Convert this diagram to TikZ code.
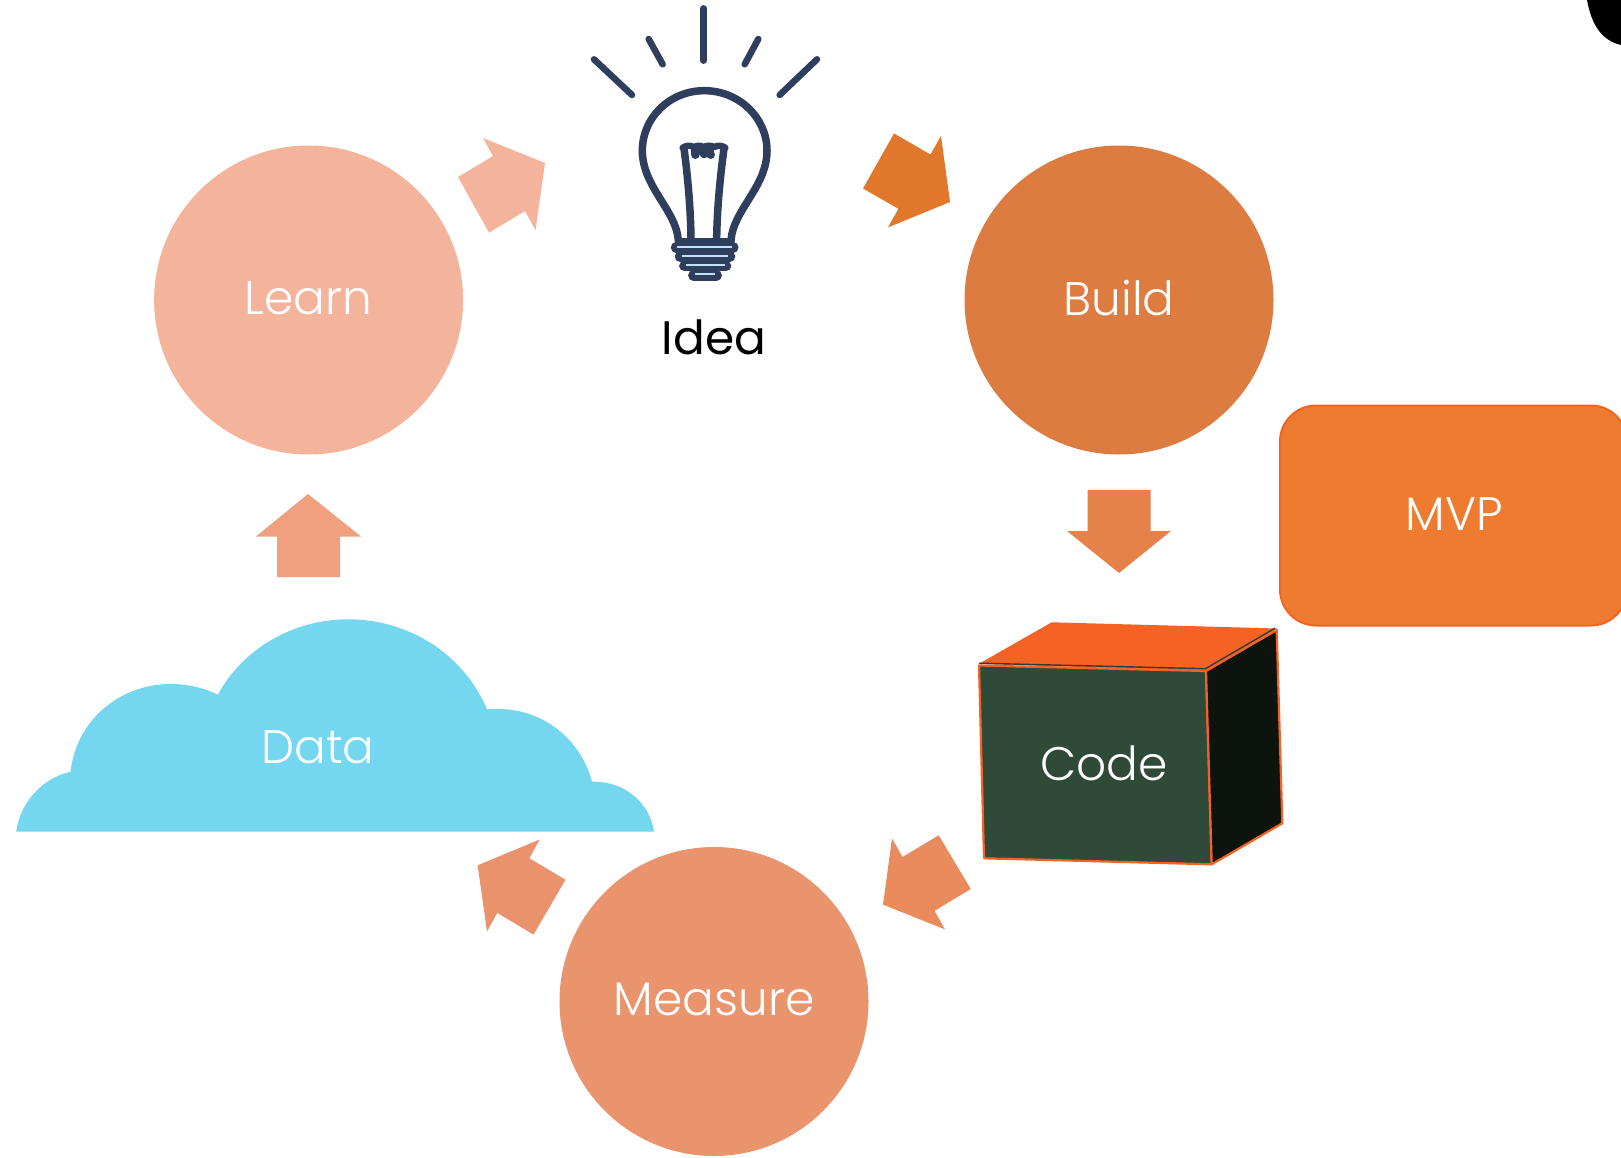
\documentclass[tikz,border=0pt]{standalone}
\usepackage{fontspec}
\setmainfont{Poppins Light}
\newfontfamily\regfont{Poppins}
\begin{document}
\begin{tikzpicture}[x=1pt,y=-1pt,
  stepcircle/.style={circle,minimum size=309pt,inner sep=0pt,text=white},
  label/.style={font=\fontsize{47}{47}\selectfont,text=white,inner sep=0pt},
  blockarrow/.style={draw=none},
  bulbline/.style={draw=bulbblue,line width=7.5pt,line cap=round,line join=round},
  bulbthread/.style={draw=threadblue,line width=1.7pt},
  cubeedge/.style={draw=cubeorange,line width=2.2pt,line join=round}]
\definecolor{bulbblue}{HTML}{2F3E5C}
\definecolor{threadblue}{HTML}{BFE0F5}
\definecolor{cubeorange}{HTML}{F46324}
\useasboundingbox (0,0) rectangle (1621,1158);
\clip (0,0) rectangle (1621,1158);
\fill[white] (0,0) rectangle (1621,1158);
% circles
\node[stepcircle,fill={rgb,255:red,244;green,179;blue,155}] (learn) at (308.6,300) {};
\node[stepcircle,fill={rgb,255:red,221;green,124;blue,65}] (build) at (1119,300) {};
\node[stepcircle,fill={rgb,255:red,233;green,148;blue,109}] (measure) at (714,1001.5) {};
\node[label] (learnt) at (308.6,298) {Learn};
\node[label] (buildt) at (1119,298) {Build};
\node[label] (measuret) at (714,999) {Measure};
% block arrows
\fill[blockarrow,fill={rgb,255:red,244;green,179;blue,155}] (458,177)--(493,156)--(483,138)--(545,163)--(535.5,230)--(525,211)--(489,232.6)--cycle;
\fill[blockarrow,fill={rgb,255:red,225;green,119;blue,43}] (863,188.5)--(894,133.5)--(930.5,154.5)--(941,136)--(950,202)--(888,227.4)--(898.4,208.8)--cycle;
\fill[blockarrow,fill={rgb,255:red,229;green,130;blue,74}] (1087.6,490)--(1150.6,490)--(1150.6,531)--(1171,531)--(1119,573)--(1067,531)--(1087.6,531)--cycle;
\fill[blockarrow,fill={rgb,255:red,233;green,139;blue,92}] (938.7,835.3)--(970.8,889)--(934.6,910.8)--(945,929.4)--(883,904.6)--(892,838.4)--(902.5,857)--cycle;
\fill[blockarrow,fill={rgb,255:red,233;green,146;blue,108}] (565.5,879.8)--(533.5,934.6)--(497.3,912.9)--(487,931.5)--(477.6,865.3)--(539.7,839.5)--(529.3,858.2)--cycle;
\fill[blockarrow,fill={rgb,255:red,240;green,160;blue,126}] (308,494)--(361,536.5)--(340,536.5)--(340,577)--(277,577)--(277,536.5)--(256,536.5)--cycle;
% cloud
\fill[fill={rgb,255:red,116;green,214;blue,239}] (16.2,831.7) .. controls (20,803) and (42,778) .. (70.5,771.7)
 .. controls (76,722) and (118,684) .. (171,684) .. controls (188,684) and (204,688) .. (218,694.7)
 .. controls (241,651) and (291,619.3) .. (348,619.3) .. controls (410,619.3) and (464,655) .. (487,709.3)
 .. controls (491,709) and (494,709) .. (498,709) .. controls (544,709) and (581,740) .. (592,781.7)
 -- (594,781.7) .. controls (625,781.7) and (650,803) .. (654,831.7) -- cycle;
\node[label] (data) at (318,747) {Data};
% cube
\fill[cubeorange] (978.5,664)--(1051.7,622.3)--(1277,628.5)--(1206,670.7)--cycle;
\filldraw[fill={rgb,255:red,48;green,74;blue,58},cubeedge] (979,665.5)--(1206,671)--(1211.7,864.3)--(984,858.3)--cycle;
\filldraw[fill={rgb,255:red,13;green,20;blue,14},cubeedge] (1206,671)--(1276.7,630)--(1282.3,823.3)--(1211.7,864.3)--cycle;
\draw[draw={rgb,255:red,50;green,60;blue,55},line width=1.4pt] (979,663.2)--(1205.5,668.7)--(1275,628.2);
\node[label] (code) at (1104,763) {Code};
% MVP
\node[draw=cubeorange,line width=2pt,fill={rgb,255:red,238;green,123;blue,48},rounded corners=36pt,minimum width=347pt,minimum height=220pt,inner sep=0pt,anchor=north west] (mvp) at (1279,404.5) {};
\node[label] (mvpt) at (1454,514) {MVP};
% blob
\fill[black] (1587,0) .. controls (1592,28) and (1604,41) .. (1621,45) -- (1621,0) -- cycle;
% bulb
\begin{scope}[xshift=570pt,x=.33333pt,y=-.33333pt]
\draw[bulbline,line width=6.5pt] (401,25)--(401,182);
\draw[bulbline,line width=6.5pt] (72,178)--(186,285);
\draw[bulbline,line width=6.5pt] (236,117)--(278,193);
\draw[bulbline,line width=6.5pt] (565,117)--(524,193);
\draw[bulbline,line width=6.5pt] (741,178)--(629,285);
\draw[bulbline] (325,720) .. controls (318,630) and (217,560) .. (217,452) .. controls (217,352) and (300,272) .. (403,272) .. controls (506,272) and (591,352) .. (591,452) .. controls (591,560) and (490,630) .. (483,720);
\draw[bulbline] (363,720) .. controls (362,620) and (352,520) .. (342,445);
\draw[bulbline] (440,720) .. controls (441,620) and (452,520) .. (462,445);
\draw[bulbline,line width=6.5pt] (338,443) .. controls (350,436) and (360,436) .. (372,441) .. controls (384,436) and (394,436) .. (402,441) .. controls (412,436) and (422,436) .. (432,441) .. controls (444,436) and (454,436) .. (466,443);
\fill[bulbblue] (364,440) rectangle (432,466);
\fill[bulbblue] (376,464) circle (13) (402,462) circle (13) (422,464) circle (13);
\draw[bulbline] (325,724)--(483,724);
\draw[bulbline,line width=10.5pt] (318,742)--(490,742);
\draw[bulbline,line width=10.5pt] (330,770)--(480,770);
\draw[bulbline,line width=10.5pt] (343,798)--(468,798);
\draw[bulbline,line width=10.5pt] (370,826)--(440,826);
\draw[bulbthread] (322,740)--(486,740);
\draw[bulbthread] (335,768)--(474,768);
\draw[bulbthread] (348,795)--(465,795);
\draw[bulbthread] (375,822)--(435,822);
\end{scope}
\node[label,text=black,font=\regfont\fontsize{47}{47}\selectfont] (idea) at (714,337) {Idea};
\end{tikzpicture}
\end{document}
